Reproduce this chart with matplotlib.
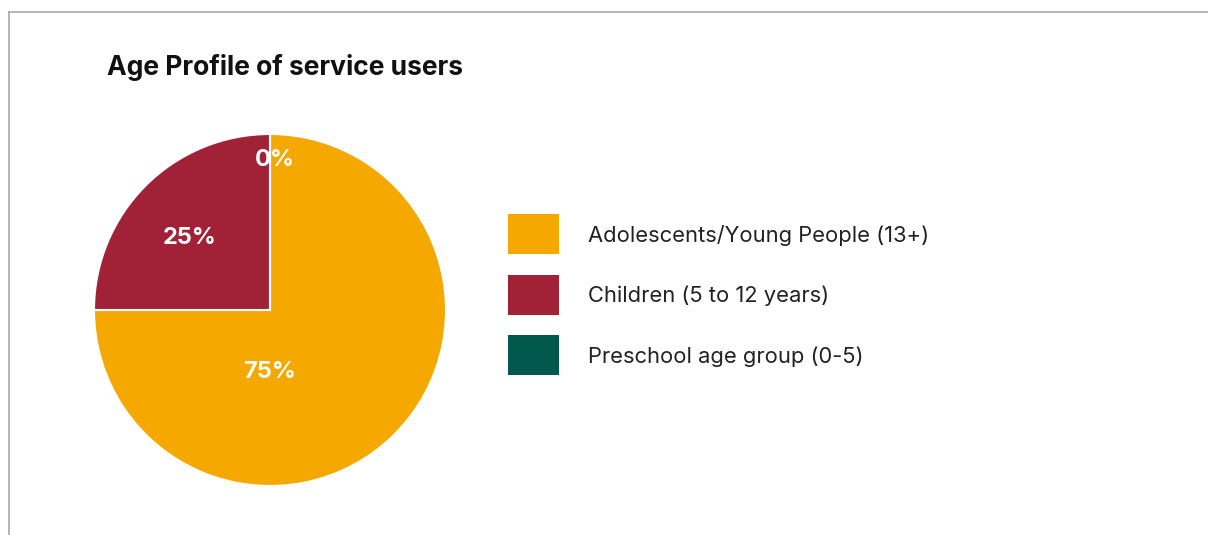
import matplotlib
matplotlib.use("Agg")
import matplotlib.pyplot as plt
import numpy as np
from matplotlib.patches import Rectangle
from matplotlib.lines import Line2D

plt.rcParams["font.family"] = ["Inter", "DejaVu Sans"]

categories = ["Adolescents/Young People (13+)", "Children (5 to 12 years)", "Preschool age group (0-5)"]
shares = [75, 25, 0]
colors = ["#F5A800", "#A12137", "#00574B"]
title = "Age Profile of service users"

W, H = 1208, 535
fig = plt.figure(figsize=(W / 100, H / 100), dpi=100)


def fx(px):
    return px / W


def fy(py):
    return 1 - py / H


# panel frame: top and left edge only
fig.add_artist(Line2D([fx(8.5), 1], [fy(12), fy(12)], color="#a8a8a8", lw=1.2))
fig.add_artist(Line2D([fx(8.5), fx(8.5)], [fy(12), 0], color="#a8a8a8", lw=1.2))

fig.text(fx(107), fy(75), title, fontsize=19, fontweight="bold", color="#111111", va="baseline")

# pie
cx, cy, r = 270, 310, 176
ax = fig.add_axes([fx(cx - r), fy(cy + r), 2 * r / W, 2 * r / H])
ax.pie(shares, colors=colors, startangle=90, counterclock=False,
       wedgeprops=dict(edgecolor="white", linewidth=1.5))
ax.set_xlim(-1, 1); ax.set_ylim(-1, 1); ax.set_aspect("equal"); ax.axis("off")

# percentage labels
lab_kw = dict(color="white", fontsize=17, fontweight="bold", ha="center", va="center")
start = 90.0
label_pos = []
for v in shares:
    sweep = 360.0 * v / sum(shares)
    mid = np.deg2rad(start - sweep / 2)
    label_pos.append(mid)
    start -= sweep
# big slice label sits below centre, the others at their mid-angles
ax.text(0.0, -0.35, f"{shares[0]}%", **lab_kw)
ax.text(0.63 * np.cos(label_pos[1]) - 0.01, 0.63 * np.sin(label_pos[1]) - 0.035,
        f"{shares[1]}%", **lab_kw)
ax.text(0.03 + 0.86 * np.cos(label_pos[2]), 0.86 * np.sin(label_pos[2]) - 0.005,
        f"{shares[2]}%", **lab_kw)

# legend
for i, (cat, col) in enumerate(zip(categories, colors)):
    yc = 234 + i * 60.5
    fig.add_artist(Rectangle((fx(508), fy(yc + 20)), 51 / W, 40 / H, facecolor=col,
                             edgecolor="none", transform=fig.transFigure))
    fig.text(fx(588), fy(yc + 1.5), cat, fontsize=15.8, color="#222222", va="center")

fig.savefig("out.png", dpi=100)
